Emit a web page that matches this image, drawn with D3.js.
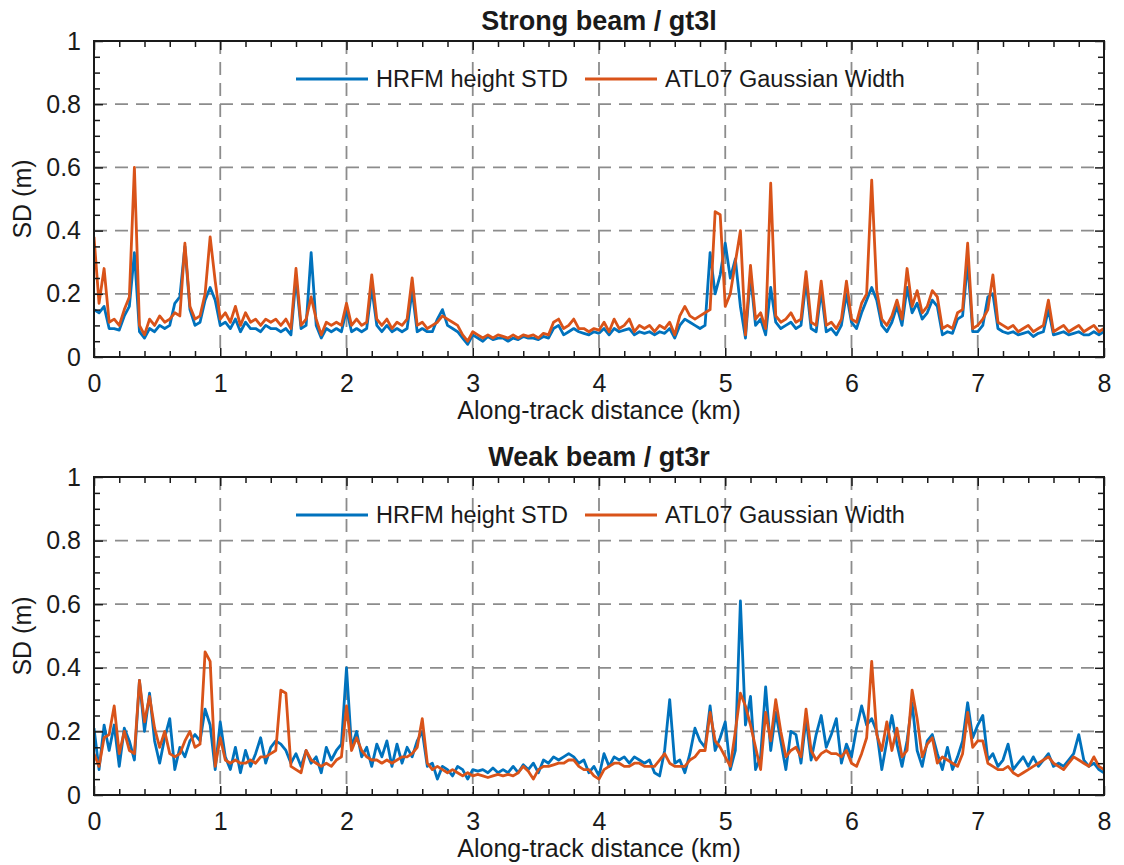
<!DOCTYPE html>
<html>
<head>
  <meta charset="utf-8">
  <title>HRFM vs ATL07 SD</title>
  <script src="https://d3js.org/d3.v7.min.js"></script>
  <style>
    body { margin: 0; background: #fff; }
    text { font-family: Arial, "Liberation Sans", Helvetica, sans-serif; fill: #1a1a1a; }
    .grid line { stroke: #8c8c8c; stroke-width: 1.8; stroke-dasharray: 13,8; }
    .axis path { display: none; }
    .axis line { stroke: #1a1a1a; stroke-width: 1.5; }
    .axis text { font-size: 25px; }
  </style>
</head>
<body>
<script>
  // samples every 0.04 km along track
  var step = 0.04;

  var strongAtl = [
    0.38,0.17,0.28,0.11,0.12,0.10,0.15,0.19,0.60,0.10,0.07,0.12,0.10,0.13,0.11,0.12,0.14,0.13,0.36,0.16,0.12,0.13,0.20,0.38,0.24,
    0.12,0.14,0.11,0.16,0.10,0.14,0.11,0.12,0.10,0.12,0.11,0.12,0.10,0.12,0.09,0.28,0.10,0.12,0.19,0.12,0.07,0.11,0.10,0.11,0.10,
    0.17,0.10,0.12,0.10,0.11,0.26,0.12,0.10,0.12,0.09,0.11,0.10,0.12,0.25,0.10,0.11,0.09,0.10,0.11,0.13,0.12,0.11,0.10,0.07,0.05,
    0.08,0.07,0.06,0.07,0.06,0.07,0.065,0.06,0.07,0.06,0.07,0.065,0.07,0.06,0.075,0.07,0.11,0.12,0.09,0.10,0.12,0.09,0.09,0.08,0.09,
    0.085,0.11,0.08,0.12,0.09,0.10,0.12,0.08,0.10,0.09,0.10,0.08,0.10,0.09,0.11,0.07,0.13,0.16,0.13,0.12,0.13,0.14,0.15,0.46,0.45,
    0.16,0.20,0.30,0.40,0.07,0.29,0.12,0.14,0.09,0.55,0.13,0.11,0.12,0.14,0.11,0.12,0.27,0.11,0.10,0.24,0.10,0.11,0.09,0.12,0.24,
    0.12,0.11,0.17,0.20,0.56,0.21,0.12,0.10,0.13,0.18,0.12,0.28,0.16,0.21,0.14,0.16,0.21,0.19,0.09,0.10,0.09,0.14,0.15,0.36,0.09,
    0.10,0.12,0.15,0.26,0.11,0.10,0.09,0.10,0.08,0.09,0.10,0.08,0.09,0.10,0.18,0.08,0.09,0.10,0.08,0.09,0.10,0.08,0.09,0.10,0.08,
    0.09
  ];
  var strongHrfm = [
    0.15,0.14,0.16,0.09,0.09,0.085,0.13,0.16,0.33,0.08,0.06,0.09,0.08,0.10,0.09,0.10,0.17,0.19,0.35,0.15,0.10,0.11,0.18,0.22,0.18,
    0.10,0.11,0.09,0.12,0.08,0.11,0.09,0.09,0.08,0.10,0.09,0.09,0.08,0.09,0.07,0.25,0.09,0.10,0.33,0.10,0.06,0.09,0.08,0.09,0.08,
    0.15,0.08,0.09,0.08,0.09,0.22,0.10,0.08,0.10,0.08,0.09,0.08,0.09,0.21,0.08,0.09,0.08,0.08,0.12,0.15,0.10,0.09,0.08,0.06,0.04,
    0.07,0.06,0.05,0.065,0.055,0.06,0.06,0.05,0.06,0.055,0.065,0.06,0.06,0.055,0.065,0.06,0.09,0.10,0.07,0.08,0.09,0.08,0.075,0.07,0.08,
    0.075,0.09,0.07,0.09,0.08,0.085,0.09,0.07,0.08,0.075,0.08,0.07,0.08,0.075,0.09,0.06,0.10,0.12,0.11,0.10,0.09,0.10,0.33,0.20,0.26,
    0.36,0.25,0.31,0.16,0.06,0.26,0.10,0.12,0.07,0.22,0.11,0.09,0.10,0.11,0.09,0.10,0.24,0.09,0.08,0.21,0.08,0.09,0.07,0.10,0.20,
    0.11,0.09,0.14,0.18,0.22,0.18,0.10,0.08,0.11,0.16,0.10,0.22,0.14,0.17,0.12,0.14,0.18,0.16,0.07,0.08,0.075,0.12,0.13,0.30,0.08,
    0.08,0.10,0.19,0.20,0.09,0.08,0.075,0.08,0.07,0.075,0.08,0.065,0.075,0.08,0.15,0.07,0.075,0.08,0.07,0.075,0.08,0.07,0.07,0.08,0.07,
    0.08
  ];
  var weakAtl = [
    0.13,0.09,0.18,0.19,0.28,0.13,0.20,0.14,0.13,0.36,0.23,0.31,0.21,0.15,0.20,0.13,0.12,0.13,0.17,0.20,0.15,0.16,0.45,0.42,0.09,
    0.18,0.11,0.10,0.11,0.10,0.10,0.11,0.10,0.12,0.12,0.13,0.14,0.33,0.32,0.09,0.08,0.07,0.14,0.11,0.10,0.09,0.10,0.09,0.11,0.12,
    0.28,0.14,0.18,0.14,0.12,0.11,0.11,0.10,0.11,0.10,0.11,0.12,0.12,0.13,0.15,0.24,0.10,0.08,0.09,0.08,0.07,0.08,0.07,0.06,0.07,
    0.06,0.065,0.06,0.055,0.06,0.065,0.06,0.065,0.06,0.07,0.09,0.075,0.05,0.08,0.09,0.09,0.095,0.10,0.10,0.11,0.11,0.09,0.08,0.08,0.06,
    0.05,0.08,0.09,0.10,0.10,0.09,0.09,0.10,0.10,0.09,0.09,0.09,0.11,0.13,0.10,0.09,0.09,0.09,0.11,0.12,0.14,0.14,0.26,0.17,0.15,
    0.12,0.09,0.20,0.32,0.28,0.22,0.15,0.08,0.26,0.17,0.30,0.20,0.12,0.14,0.15,0.12,0.27,0.14,0.11,0.13,0.14,0.13,0.13,0.12,0.14,
    0.10,0.09,0.13,0.18,0.42,0.19,0.14,0.23,0.14,0.21,0.12,0.14,0.33,0.24,0.12,0.16,0.18,0.10,0.12,0.11,0.10,0.09,0.13,0.26,0.15,
    0.17,0.17,0.10,0.09,0.08,0.08,0.09,0.07,0.06,0.07,0.08,0.09,0.10,0.11,0.12,0.10,0.09,0.08,0.10,0.12,0.11,0.10,0.09,0.12,0.09,
    0.08
  ];
  var weakHrfm = [
    0.21,0.08,0.22,0.14,0.22,0.09,0.21,0.17,0.11,0.36,0.20,0.32,0.17,0.10,0.18,0.24,0.08,0.15,0.12,0.17,0.19,0.17,0.27,0.22,0.08,
    0.23,0.12,0.08,0.15,0.07,0.14,0.09,0.13,0.18,0.10,0.15,0.17,0.16,0.14,0.10,0.13,0.09,0.14,0.10,0.12,0.07,0.15,0.11,0.14,0.16,
    0.40,0.15,0.20,0.12,0.15,0.09,0.16,0.12,0.17,0.09,0.16,0.10,0.15,0.12,0.17,0.20,0.09,0.10,0.05,0.09,0.08,0.06,0.09,0.08,0.05,
    0.08,0.075,0.08,0.07,0.085,0.07,0.08,0.07,0.09,0.07,0.095,0.08,0.10,0.07,0.11,0.10,0.12,0.11,0.12,0.13,0.12,0.10,0.11,0.07,0.09,
    0.06,0.13,0.09,0.12,0.11,0.12,0.10,0.12,0.11,0.10,0.11,0.07,0.06,0.14,0.30,0.10,0.11,0.07,0.13,0.21,0.17,0.15,0.28,0.14,0.18,
    0.23,0.08,0.14,0.61,0.22,0.31,0.08,0.12,0.34,0.14,0.26,0.17,0.08,0.20,0.19,0.10,0.24,0.11,0.19,0.25,0.15,0.19,0.24,0.10,0.16,
    0.12,0.21,0.28,0.22,0.24,0.20,0.08,0.17,0.25,0.16,0.09,0.17,0.29,0.14,0.09,0.17,0.19,0.13,0.08,0.15,0.08,0.12,0.17,0.29,0.18,
    0.22,0.25,0.11,0.13,0.09,0.11,0.16,0.08,0.10,0.12,0.09,0.12,0.09,0.11,0.13,0.09,0.10,0.09,0.11,0.13,0.19,0.11,0.09,0.10,0.08,
    0.07
  ];

  var xTicks = [0, 1, 2, 3, 4, 5, 6, 7, 8];
  var yTicks = [0, 0.2, 0.4, 0.6, 0.8, 1];
  var seriesNames = ["HRFM height STD", "ATL07 Gaussian Width"];
  var colors = ["#0072BD", "#D95319"];
  var panelTitles = ["Strong beam / gt3l", "Weak beam / gt3r"];

  var panels = [
    { title: panelTitles[0], top: 41, height: 316, series: [strongHrfm, strongAtl] },
    { title: panelTitles[1], top: 477, height: 318, series: [weakHrfm, weakAtl] }
  ];

  var left = 94, width = 1010;

  var svg = d3.select("body").append("svg")
    .attr("width", 1124)
    .attr("height", 865);

  var xMinor = d3.range(0, 40).map(function(i) { return i * 0.2; }).filter(function(v, i) { return i % 5 !== 0; });
  var yMinor = d3.range(0, 20).map(function(i) { return i * 0.05; }).filter(function(v, i) { return i % 4 !== 0; });

  panels.forEach(function(p, pi) {
    var x = d3.scaleLinear().domain([0, 8]).range([0, width]);
    var y = d3.scaleLinear().domain([0, 1]).range([p.height, 0]);

    var g = svg.append("g").attr("transform", "translate(" + left + "," + p.top + ")");

    g.append("clipPath").attr("id", "clip" + pi)
      .append("rect").attr("width", width).attr("height", p.height);

    // dashed grid
    var grid = g.append("g").attr("class", "grid");
    grid.selectAll(".vx").data(xTicks.slice(1, -1)).enter().append("line")
      .attr("x1", function(d) { return x(d); }).attr("x2", function(d) { return x(d); })
      .attr("y1", 0).attr("y2", p.height);
    grid.selectAll(".hy").data(yTicks.slice(1, -1)).enter().append("line")
      .attr("y1", function(d) { return y(d); }).attr("y2", function(d) { return y(d); })
      .attr("x1", 0).attr("x2", width);

    var line = d3.line()
      .x(function(d, i) { return x(i * step); })
      .y(function(d) { return y(d); });

    p.series.forEach(function(s, si) {
      g.append("path")
        .datum(s)
        .attr("clip-path", "url(#clip" + pi + ")")
        .attr("fill", "none")
        .attr("stroke", colors[si])
        .attr("stroke-width", 2.8)
        .attr("stroke-linejoin", "round")
        .attr("d", line);
    });

    // axes with inward ticks on all sides
    g.append("g").attr("class", "axis")
      .attr("transform", "translate(0," + p.height + ")")
      .call(d3.axisBottom(x).tickValues(xTicks).tickSizeInner(-9).tickSizeOuter(0).tickPadding(17).tickFormat(d3.format("d")));
    g.append("g").attr("class", "axis")
      .attr("transform", "translate(0," + p.height + ")")
      .call(d3.axisBottom(x).tickValues(xMinor).tickSizeInner(-6).tickSizeOuter(0).tickFormat(""));
    g.append("g").attr("class", "axis")
      .call(d3.axisTop(x).tickValues(xTicks).tickSizeInner(-9).tickSizeOuter(0).tickFormat(""));
    g.append("g").attr("class", "axis")
      .call(d3.axisTop(x).tickValues(xMinor).tickSizeInner(-6).tickSizeOuter(0).tickFormat(""));

    g.append("g").attr("class", "axis")
      .call(d3.axisLeft(y).tickValues(yTicks).tickSizeInner(-9).tickSizeOuter(0).tickPadding(13).tickFormat(d3.format("~g")));
    g.append("g").attr("class", "axis")
      .call(d3.axisLeft(y).tickValues(yMinor).tickSizeInner(-6).tickSizeOuter(0).tickFormat(""));
    g.append("g").attr("class", "axis")
      .attr("transform", "translate(" + width + ",0)")
      .call(d3.axisRight(y).tickValues(yTicks).tickSizeInner(-9).tickSizeOuter(0).tickFormat(""));
    g.append("g").attr("class", "axis")
      .attr("transform", "translate(" + width + ",0)")
      .call(d3.axisRight(y).tickValues(yMinor).tickSizeInner(-6).tickSizeOuter(0).tickFormat(""));

    g.append("rect")
      .attr("width", width).attr("height", p.height)
      .attr("fill", "none").attr("stroke", "#1a1a1a").attr("stroke-width", 2);

    // legend
    var legendY = 38;
    var legendX = [202, 491];
    seriesNames.forEach(function(name, si) {
      g.append("line")
        .attr("x1", legendX[si]).attr("x2", legendX[si] + 72)
        .attr("y1", legendY).attr("y2", legendY)
        .attr("stroke", colors[si]).attr("stroke-width", 2.8);
      g.append("text")
        .attr("x", legendX[si] + 80).attr("y", legendY)
        .attr("dy", "0.35em")
        .style("font-size", "23.5px")
        .text(name);
    });

    g.append("text")
      .attr("x", width / 2).attr("y", -11)
      .attr("text-anchor", "middle")
      .style("font-size", "27px").style("font-weight", "bold")
      .text(p.title);

    g.append("text")
      .attr("x", width / 2).attr("y", p.height + 62)
      .attr("text-anchor", "middle")
      .style("font-size", "25px")
      .text("Along-track distance (km)");

    g.append("text")
      .attr("transform", "rotate(-90)")
      .attr("x", -p.height / 2).attr("y", -72)
      .attr("dy", "0.35em")
      .attr("text-anchor", "middle")
      .style("font-size", "25px")
      .text("SD (m)");
  });
</script>
</body>
</html>
